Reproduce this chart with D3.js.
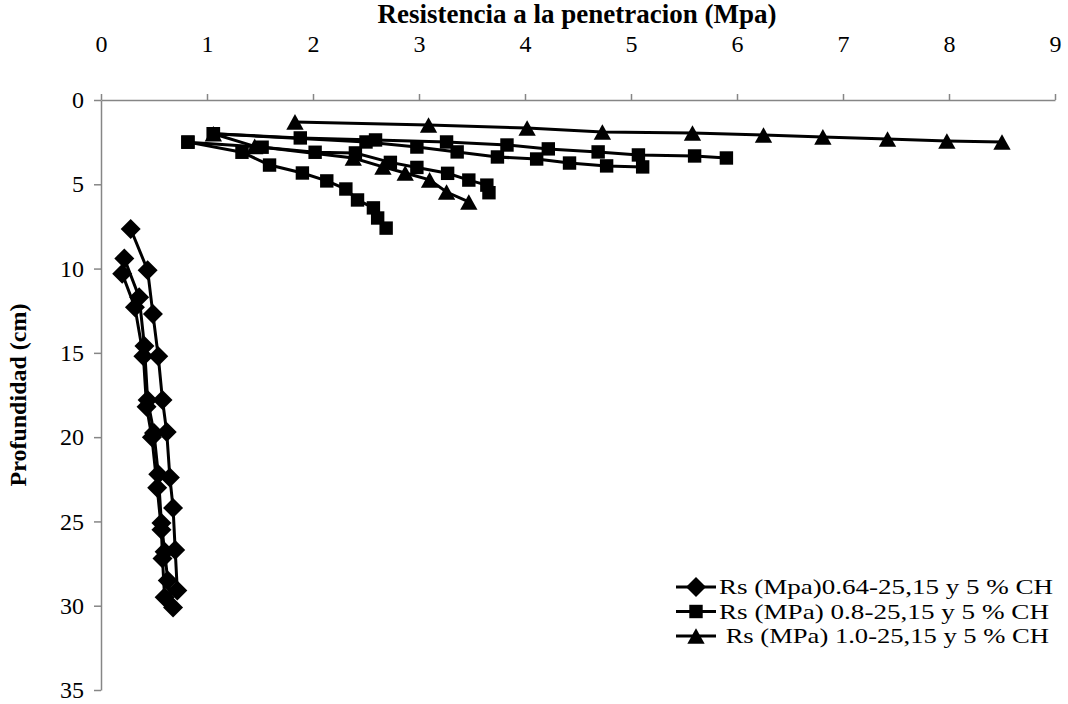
<!DOCTYPE html>
<html>
<head>
<meta charset="utf-8">
<script src="https://cdn.jsdelivr.net/npm/d3@7"></script>
<style>
  body { margin: 0; background: #fff; }
  svg { display: block; }
  svg text { font-family: "Liberation Serif", "Times New Roman", serif; }
</style>
</head>
<body>
<script>
// Data: [resistance (MPa), depth (cm)] per profile (25, 15 and 5 % CH)
var legendLabels = ["Rs (Mpa)0.64-25,15 y 5 % CH", "Rs (MPa) 0.8-25,15 y 5 % CH", " Rs (MPa) 1.0-25,15 y 5 % CH"];
var xTickValues = [0, 1, 2, 3, 4, 5, 6, 7, 8, 9];
var yTickValues = [0, 5, 10, 15, 20, 25, 30, 35];

var rs064_a = [[0.28, 7.65], [0.44, 10.1], [0.49, 12.7], [0.54, 15.2], [0.58, 17.8], [0.62, 19.7], [0.65, 22.4], [0.68, 24.2], [0.70, 26.7], [0.72, 29.1]];
var rs064_b = [[0.22, 9.4], [0.36, 11.7], [0.41, 14.6], [0.44, 17.8], [0.50, 19.75], [0.54, 22.2], [0.57, 25.1], [0.60, 26.8], [0.63, 28.5], [0.68, 30.1]];
var rs064_c = [[0.20, 10.3], [0.32, 12.3], [0.40, 15.2], [0.43, 18.2], [0.48, 20.0], [0.53, 23.0], [0.57, 25.5], [0.58, 27.2], [0.60, 29.5]];

var rs08_a = [[0.82, 2.5], [1.33, 3.1], [1.59, 3.86], [1.90, 4.33], [2.13, 4.8], [2.31, 5.28], [2.42, 5.93], [2.57, 6.4], [2.61, 7.0], [2.69, 7.6]];
var rs08_b = [[1.06, 2.0], [1.88, 2.25], [2.59, 2.37], [3.26, 2.49], [3.83, 2.67], [4.22, 2.9], [4.69, 3.08], [5.07, 3.26], [5.60, 3.32], [5.90, 3.44]];
var rs08_c = [[1.06, 2.0], [2.50, 2.49], [2.98, 2.79], [3.36, 3.08], [3.74, 3.38], [4.11, 3.5], [4.42, 3.74], [4.77, 3.91], [5.11, 3.97]];
var rs08_d = [[0.82, 2.5], [1.52, 2.8], [2.02, 3.1], [2.40, 3.14], [2.73, 3.7], [2.98, 4.0], [3.27, 4.35], [3.47, 4.75], [3.64, 5.05], [3.66, 5.5]];

var rs10_a = [[1.83, 1.3], [3.09, 1.48], [4.02, 1.66], [4.73, 1.9], [5.58, 1.96], [6.25, 2.08], [6.81, 2.19], [7.42, 2.31], [7.98, 2.43], [8.50, 2.49]];
var rs10_b = [[1.06, 2.0], [1.45, 2.75], [2.38, 3.44], [2.66, 3.97], [2.87, 4.33], [3.10, 4.74], [3.26, 5.46], [3.47, 6.05]];

var seriesProfiles = [
  [rs064_a, rs064_b, rs064_c],
  [rs08_a, rs08_b, rs08_c, rs08_d],
  [rs10_a, rs10_b]
];

var width = 1068, height = 704;

var svg = d3.select("body")
  .append("svg")
  .attr("width", width)
  .attr("height", height);

var xScale = d3.scaleLinear().domain([0, 9]).range([101, 1055]);
var yScale = d3.scaleLinear().domain([0, 35]).range([100, 690]);

// marker shapes
var diamond = { draw: function(ctx, size) {
  var r = Math.sqrt(size / 2);
  ctx.moveTo(0, -r); ctx.lineTo(r, 0); ctx.lineTo(0, r); ctx.lineTo(-r, 0); ctx.closePath();
}};
var square = { draw: function(ctx, size) {
  var s = Math.sqrt(size) / 2;
  ctx.rect(-s, -s, 2 * s, 2 * s);
}};
var triangle = { draw: function(ctx, size) {
  var w = Math.sqrt(size), h = w * 0.9;
  ctx.moveTo(0, -h / 2); ctx.lineTo(w / 2, h / 2); ctx.lineTo(-w / 2, h / 2); ctx.closePath();
}};
var markers = [d3.symbol().type(diamond).size(200), d3.symbol().type(square).size(180), d3.symbol().type(triangle).size(300)];

// axes
var xAxis = d3.axisTop(xScale).tickValues(xTickValues).tickSize(6).tickPadding(42).tickSizeOuter(0);
var yAxis = d3.axisLeft(yScale).tickValues(yTickValues).tickSize(7).tickPadding(10).tickSizeOuter(0);

var gx = svg.append("g").attr("transform", "translate(0,100)").call(xAxis);
var gy = svg.append("g").attr("transform", "translate(101,0)").call(yAxis);

[gx, gy].forEach(function(g) {
  g.attr("font-family", null).attr("font-size", null);
  g.selectAll("path, line").attr("stroke", "#868686").attr("stroke-width", 1.5);
  g.selectAll("text")
    .attr("fill", "#000")
    .style("font-family", "'Liberation Serif', serif")
    .style("font-size", "24px");
});

svg.append("text")
  .text("Resistencia a la penetracion (Mpa)")
  .attr("x", 577).attr("y", 23)
  .attr("text-anchor", "middle")
  .style("font-size", "27px").style("font-weight", "bold");

svg.append("text")
  .text("Profundidad (cm)")
  .attr("transform", "translate(26,395) rotate(-90)")
  .attr("text-anchor", "middle")
  .style("font-size", "24px").style("font-weight", "bold");

// series
var line = d3.line()
  .x(function(d) { return xScale(d[0]); })
  .y(function(d) { return yScale(d[1]); });

seriesProfiles.forEach(function(profiles, i) {
  var g = svg.append("g");
  profiles.forEach(function(p) {
    g.append("path")
      .attr("d", line(p))
      .attr("fill", "none")
      .attr("stroke", "#000")
      .attr("stroke-width", 3);
  });
  profiles.forEach(function(p) {
    g.selectAll(null)
      .data(p)
      .enter()
      .append("path")
      .attr("d", markers[i])
      .attr("transform", function(d) { return "translate(" + xScale(d[0]) + "," + yScale(d[1]) + ")"; })
      .attr("fill", "#000");
  });
});

// legend
var legendWidths = [334, 330, 330];
var legend = svg.append("g").attr("transform", "translate(676,587)");
legendLabels.forEach(function(label, i) {
  var row = legend.append("g").attr("transform", "translate(0," + (i * 24.5) + ")");
  row.append("line").attr("x1", 0).attr("x2", 40).attr("y1", 0).attr("y2", 0)
    .attr("stroke", "#000").attr("stroke-width", 3);
  row.append("path").attr("d", markers[i]).attr("transform", "translate(20,0)").attr("fill", "#000");
  row.append("text").text(label)
    .attr("x", 43).attr("y", 0).attr("dy", "0.33em")
    .attr("textLength", legendWidths[i])
    .attr("lengthAdjust", "spacingAndGlyphs")
    .style("font-size", "22px")
    .style("white-space", "pre")
    .attr("xml:space", "preserve");
});
</script>
</body>
</html>
